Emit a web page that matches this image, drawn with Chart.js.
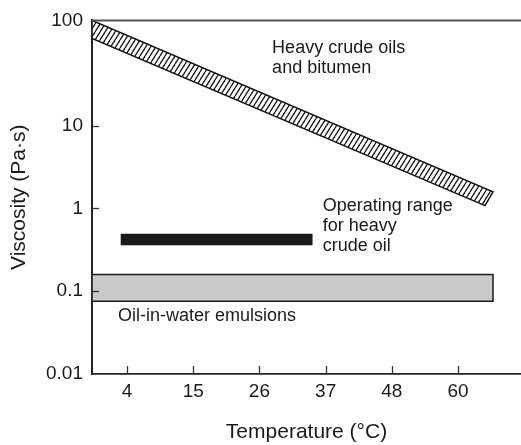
<!DOCTYPE html>
<html>
<head>
<meta charset="utf-8">
<script src="https://cdn.jsdelivr.net/npm/chart.js@4/dist/chart.umd.min.js"></script>
<style>
  html, body { margin: 0; padding: 0; background: #fff; }
  #wrap { width: 521px; height: 445px; }
</style>
</head>
<body>
<div id="wrap"><canvas id="viscChart"></canvas></div>
<script>
// Axis ticks (temperature ticks sit at 40..140 F, labelled in C)
const xTickValues = [4.44, 15.56, 26.67, 37.78, 48.89, 60.0];
const xTickLabels = ['4', '15', '26', '37', '48', '60'];
const yTickValues = [0.01, 0.1, 1, 10, 186];
const yTickLabels = ['0.01', '0.1', '1', '10', '100'];
const xMin = -1.43;
const xMax = 70.57;

// Heavy crude oils and bitumen (hatched band outline, [temp C, viscosity Pa.s])
const heavyBand = [[-1.43, 186], [65.87, 1.58], [64.53, 1.08], [-1.43, 113], [-1.43, 186]];
// Operating range for heavy crude oil (black bar)
const operatingRange = [[3.43, 0.49], [35.49, 0.49], [35.49, 0.36], [3.43, 0.36], [3.43, 0.49]];
// Oil-in-water emulsions (grey band)
const emulsionBand = [[-1.43, 0.159], [65.87, 0.159], [65.87, 0.0758], [-1.43, 0.0758], [-1.43, 0.159]];

// Labels placed in data coordinates (first line baseline)
const notes = [
    { lines: ['Heavy crude oils', 'and bitumen'], x: 28.8, y: 75 },
    { lines: ['Operating range', 'for heavy', 'crude oil'], x: 37.3, y: 0.94 },
    { lines: ['Oil-in-water emulsions'], x: 2.93, y: 0.0438 }
];

const FONT = '"Liberation Sans", Arial, Helvetica, sans-serif';

// Hatch pattern for the heavy oil band
function makeHatch() {
    const w = 5, h = 8;
    const c = document.createElement('canvas');
    c.width = w;
    c.height = h;
    const g = c.getContext('2d');
    g.fillStyle = '#fff';
    g.fillRect(0, 0, w, h);
    g.strokeStyle = '#111';
    g.lineWidth = 1.3;
    for (const dx of [-w, 0, w]) {
        g.beginPath();
        g.moveTo(dx, h);
        g.lineTo(dx + w, 0);
        g.stroke();
    }
    return g.createPattern(c, 'repeat');
}

function toPoints(arr) {
    return arr.map(p => ({ x: p[0], y: p[1] }));
}

// Inward tick marks, top frame line and text notes
const decorations = {
    id: 'decorations',
    afterDatasetsDraw(chart) {
        const { ctx, chartArea } = chart;
        const xs = chart.scales.x, ys = chart.scales.y;
        ctx.save();
        ctx.strokeStyle = '#333';
        ctx.lineWidth = 1.3;
        xTickValues.forEach(v => {
            const px = Math.round(xs.getPixelForValue(v)) + 0.5;
            ctx.beginPath();
            ctx.moveTo(px, chartArea.bottom);
            ctx.lineTo(px, chartArea.bottom - 8);
            ctx.stroke();
        });
        [0.1, 1, 10].forEach(v => {
            const py = Math.round(ys.getPixelForValue(v)) + 0.5;
            ctx.beginPath();
            ctx.moveTo(chartArea.left, py);
            ctx.lineTo(chartArea.left + 7, py);
            ctx.stroke();
        });
        // top frame line
        ctx.strokeStyle = '#555';
        ctx.lineWidth = 2;
        ctx.beginPath();
        ctx.moveTo(chartArea.left, chartArea.top);
        ctx.lineTo(chartArea.right, chartArea.top);
        ctx.stroke();

        ctx.fillStyle = '#1a1a1a';
        ctx.font = '18px ' + FONT;
        ctx.textAlign = 'left';
        ctx.textBaseline = 'alphabetic';
        notes.forEach(n => {
            const px = xs.getPixelForValue(n.x);
            const py = ys.getPixelForValue(n.y);
            n.lines.forEach((t, i) => ctx.fillText(t, px, py + i * 20));
        });
        ctx.restore();
    }
};

const ctx = document.getElementById('viscChart').getContext('2d');
const chart = new Chart(ctx, {
    type: 'scatter',
    data: {
        datasets: [
            {
                label: 'Oil-in-water emulsions',
                data: toPoints(emulsionBand),
                showLine: true,
                fill: 'shape',
                backgroundColor: '#c9c9c9',
                borderColor: '#1a1a1a',
                borderWidth: 1.5,
                pointRadius: 0,
                tension: 0
            },
            {
                label: 'Operating range',
                data: toPoints(operatingRange),
                showLine: true,
                fill: 'shape',
                backgroundColor: '#1a1a1a',
                borderColor: '#1a1a1a',
                borderWidth: 0.5,
                pointRadius: 0,
                tension: 0
            },
            {
                label: 'Heavy crude oils and bitumen',
                data: toPoints(heavyBand),
                showLine: true,
                fill: 'shape',
                backgroundColor: makeHatch(),
                borderColor: '#111',
                borderWidth: 1.5,
                borderJoinStyle: 'miter',
                pointRadius: 0,
                tension: 0
            }
        ]
    },
    options: {
        responsive: true,
        maintainAspectRatio: false,
        animation: false,
        layout: {
            padding: { top: 15, right: 0, left: 0, bottom: 0 }
        },
        plugins: {
            legend: { display: false },
            tooltip: { enabled: false }
        },
        scales: {
            x: {
                type: 'linear',
                min: xMin,
                max: xMax,
                afterBuildTicks: scale => {
                    scale.ticks = xTickValues.map(v => ({ value: v }));
                },
                afterFit: scale => { scale.height = 71; },
                grid: { display: false, drawTicks: false },
                border: { display: true, color: '#222', width: 1.8 },
                ticks: {
                    autoSkip: false,
                    maxRotation: 0,
                    padding: 6,
                    color: '#1a1a1a',
                    font: { family: FONT, size: 19 },
                    callback: (value, index) => xTickLabels[index]
                },
                title: {
                    display: true,
                    text: 'Temperature (°C)',
                    color: '#1a1a1a',
                    font: { family: FONT, size: 21 },
                    padding: { top: 0, bottom: 0 }
                }
            },
            y: {
                type: 'logarithmic',
                min: 0.01,
                max: 186,
                afterBuildTicks: scale => {
                    scale.ticks = yTickValues.map(v => ({ value: v }));
                },
                afterFit: scale => { scale.width = 92; },
                grid: { display: false, drawTicks: false },
                border: { display: true, color: '#222', width: 2 },
                ticks: {
                    autoSkip: false,
                    padding: 9,
                    color: '#1a1a1a',
                    font: { family: FONT, size: 19 },
                    callback: (value, index) => yTickLabels[index]
                },
                title: {
                    display: true,
                    text: 'Viscosity (Pa·s)',
                    color: '#1a1a1a',
                    font: { family: FONT, size: 21 },
                    padding: { top: 7, bottom: 0 }
                }
            }
        }
    },
    plugins: [decorations]
});
</script>
</body>
</html>
